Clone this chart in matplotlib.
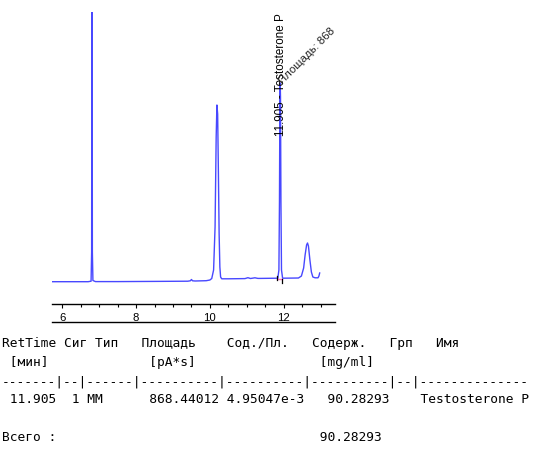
import matplotlib
matplotlib.use("Agg")
import matplotlib.pyplot as plt
from matplotlib.ticker import MultipleLocator

plt.rcParams['font.family'] = ['Liberation Sans', 'DejaVu Sans']

# ---- chromatogram trace (time in min, signal in arbitrary units) ----
time = [5.73, 6.70, 6.78, 6.795, 6.805, 6.815, 6.83, 6.90, 7.5, 8.5,
        9.40, 9.47, 9.50, 9.53, 9.60, 9.90, 10.00, 10.05, 10.10, 10.14,
        10.17, 10.19, 10.21, 10.23, 10.25, 10.27, 10.29, 10.32, 10.50, 10.95,
        11.03, 11.10, 11.22, 11.30, 11.38, 11.60, 11.84, 11.87, 11.885, 11.897,
        11.905, 11.913, 11.925, 11.94, 11.97, 12.20, 12.40, 12.48, 12.54, 12.58,
        12.62, 12.645, 12.67, 12.71, 12.75, 12.79, 12.85, 12.93, 12.955, 12.975]
signal = [0.3, 0.3, 0.8, 30, 420, 30, 1.5, 0.4, 0.4, 0.6,
          0.8, 1.2, 2.5, 1.2, 1.0, 1.3, 2.0, 3.5, 12, 55,
          145, 177, 168, 110, 48, 15, 5, 3.2, 3.2, 3.4,
          4.3, 3.5, 4.2, 3.6, 3.6, 3.7, 3.8, 12, 80, 185,
          199, 185, 80, 12, 3.8, 3.9, 4.0, 6, 14, 27,
          37, 39, 36, 22, 10, 5, 4.2, 4.2, 6, 9]

# integration of the identified peak
peak_start = 11.83
peak_end = 11.955
peak_baseline = 3.5

x_major = [6, 8, 10, 12]
x_labels = ["6", "8", "10", "12"]

# ---- report table ----
ret_time = 11.905
sig = 1
peak_type = "MM"
area = 868.44012
amt_area = "4.95047e-3"
amount = 90.28293
name = "Testosterone P"
total = 90.28293

peak_label = f"{ret_time:.3f} - {name}"
area_label = f"Площадь: {area:.0f}"

W, H = 541, 456
fig = plt.figure(figsize=(W / 100, H / 100), dpi=100)
ax = fig.add_axes([52 / W, (H - 305) / H, (335 - 52) / W, (305 - 13) / H])
ax.set_xlim(5.721, 13.39)
ax.set_ylim(-22, 270)

ax.plot(time, signal, color='#4848ff', lw=1.0)
ax.plot([peak_start, peak_end], [peak_baseline, peak_baseline], color='#ff70c0', lw=1.0)
ax.plot([peak_start, peak_start], [2.3, 6.3], color='black', lw=0.9)
ax.plot([peak_end, peak_end], [-1, 3], color='black', lw=0.9)

for s in ['top', 'left', 'right']:
    ax.spines[s].set_visible(False)
ax.spines['bottom'].set_linewidth(1.0)
ax.set_yticks([])
ax.set_xticks(x_major)
ax.set_xticklabels(x_labels)
ax.xaxis.set_minor_locator(MultipleLocator(0.5))
ax.tick_params(axis='x', which='major', length=3.0, width=0.8, pad=3.0, labelsize=8.2)
ax.tick_params(axis='x', which='minor', length=1.8, width=0.8)
ax.plot([0, 1], [-(323 - 305) / 292] * 2, transform=ax.transAxes, clip_on=False,
        color='black', lw=1.0)

ax.text(11.927, 147, peak_label, rotation=90, rotation_mode='anchor',
        ha='left', va='center', fontsize=8.4, color='black')
ax.text(11.91, 201, area_label, rotation=45, rotation_mode='anchor',
        ha='left', va='center', fontsize=8.2, color='#222222')

# table rows (monospace grid)
header = "RetTime Сиг Тип   Площадь    Сод./Пл.   Содерж.   Грп   Имя"
units = " [мин]" + " " * 13 + "[pA*s]" + " " * 16 + "[mg/ml]"
dashes = "-------|--|------|----------|----------|----------|--|" + "-" * 14
row = (f" {ret_time:6.3f}  {sig} {peak_type}" + " " * 6 + f"{area:.5f}" + " " +
       amt_area + " " * 3 + f"{amount:.5f}" + " " * 4 + name)
tot = "Всего :" + " " * 34 + f"{total:.5f}"

mono = dict(family='DejaVu Sans Mono', fontsize=9.28, ha='left', va='center', color='black')
for text, y in [(header, 343.3), (units, 363), (dashes, 381.7), (row, 399.3), (tot, 437.3)]:
    fig.text(2.0 / W, 1 - y / H, text, **mono)

fig.savefig("out.png", dpi=100)
